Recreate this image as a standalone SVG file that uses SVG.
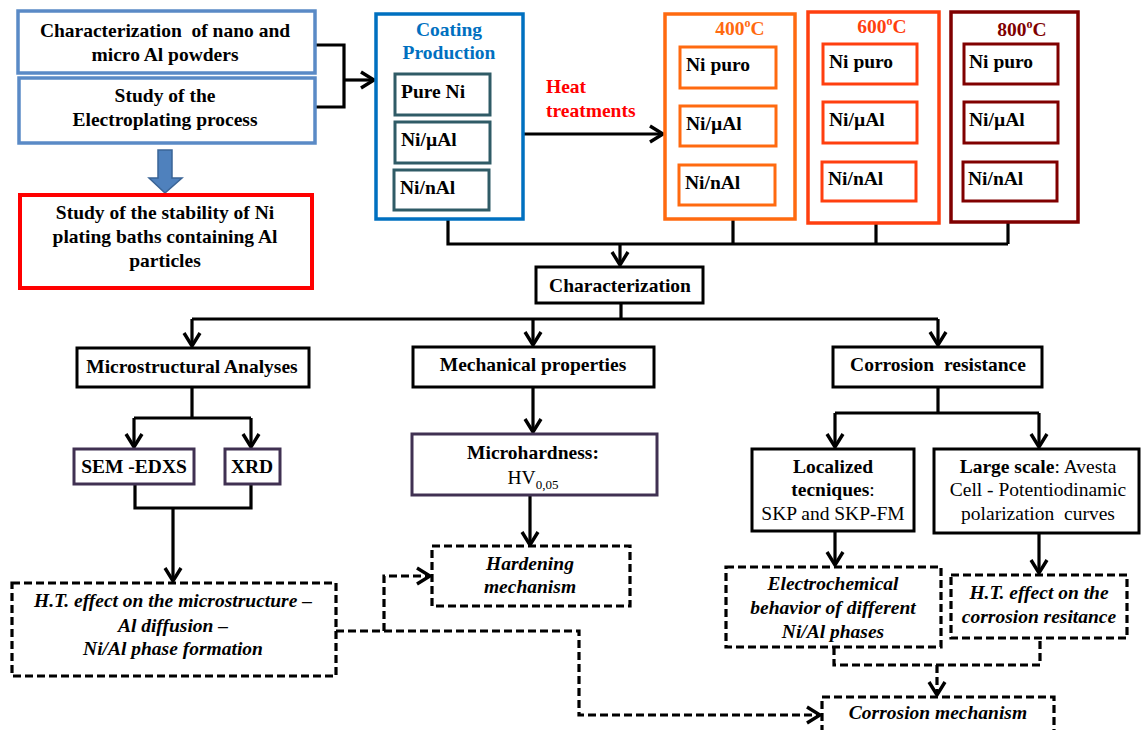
<svg xmlns="http://www.w3.org/2000/svg" width="1141" height="730" viewBox="0 0 1141 730">
<style>
.t{font-family:"Liberation Serif","Times New Roman",serif;font-size:19.5px;font-weight:bold;fill:#000}
.c{text-anchor:middle}
.i{font-style:italic}
.n{font-weight:normal}
.box{fill:#fff;stroke:#000;stroke-width:3}
.dbox{fill:#fff;stroke:#000;stroke-width:3.2;stroke-dasharray:8 4}
.bl{fill:#fff;stroke:#5A8AC6;stroke-width:3.5}
.tl{fill:#fff;stroke:#2F5B66;stroke-width:3}
.pu{fill:#fff;stroke:#403152;stroke-width:3}
.o4{fill:#fff;stroke:#FF6A10;stroke-width:3.5}
.o6{fill:#fff;stroke:#FF3F0F;stroke-width:3.5}
.o8{fill:#fff;stroke:#800000;stroke-width:3.5}
.ln{fill:none;stroke:#000;stroke-width:3.2}
.dl{fill:none;stroke:#000;stroke-width:3.2;stroke-dasharray:8 4}
</style>
<defs>
<marker id="ah" markerUnits="userSpaceOnUse" markerWidth="18" markerHeight="22" viewBox="0 0 18 22" refX="16" refY="11" orient="auto">
<path d="M3,3 L16,11 L3,19" fill="none" stroke="#000" stroke-width="3.4"/>
</marker>
</defs>
<rect width="1141" height="730" fill="#fff"/>

<g id="connectors">
<polyline class="ln" points="315,45 344,45 344,107 315,107"/>
<line class="ln" x1="344" y1="80" x2="374" y2="80" marker-end="url(#ah)"/>
<line class="ln" x1="523" y1="134" x2="663" y2="134" marker-end="url(#ah)"/>
<polyline class="ln" points="448,219 448,244 1008,244"/>
<line class="ln" x1="733" y1="219" x2="733" y2="244"/>
<line class="ln" x1="876" y1="223" x2="876" y2="244"/>
<line class="ln" x1="1008" y1="222" x2="1008" y2="244"/>
<line class="ln" x1="620" y1="244" x2="620" y2="265" marker-end="url(#ah)"/>
<polyline class="ln" points="621,303 621,319"/>
<line class="ln" x1="192" y1="319" x2="938" y2="319"/>
<line class="ln" x1="192" y1="319" x2="192" y2="346" marker-end="url(#ah)"/>
<line class="ln" x1="533" y1="319" x2="533" y2="345" marker-end="url(#ah)"/>
<line class="ln" x1="938" y1="319" x2="938" y2="345" marker-end="url(#ah)"/>
<polyline class="ln" points="192,387 192,418"/>
<line class="ln" x1="134" y1="418" x2="251" y2="418"/>
<line class="ln" x1="134" y1="418" x2="134" y2="447" marker-end="url(#ah)"/>
<line class="ln" x1="251" y1="418" x2="251" y2="447" marker-end="url(#ah)"/>
<polyline class="ln" points="135,484 135,508 251,508 251,484"/>
<line class="ln" x1="173" y1="508" x2="173" y2="581" marker-end="url(#ah)"/>
<line class="ln" x1="533" y1="387" x2="533" y2="432" marker-end="url(#ah)"/>
<line class="ln" x1="530" y1="495" x2="530" y2="545" marker-end="url(#ah)"/>
<polyline class="ln" points="938,387 938,413"/>
<line class="ln" x1="835" y1="413" x2="1039" y2="413"/>
<line class="ln" x1="835" y1="413" x2="835" y2="447" marker-end="url(#ah)"/>
<line class="ln" x1="1039" y1="413" x2="1039" y2="447" marker-end="url(#ah)"/>
<line class="ln" x1="835" y1="531" x2="835" y2="565" marker-end="url(#ah)"/>
<line class="ln" x1="1039" y1="533" x2="1039" y2="573" marker-end="url(#ah)"/>
<polyline class="dl" points="336,631 579,631 579,715 820,715" marker-end="url(#ah)"/>
<polyline class="dl" points="384,631 384,576 430,576" marker-end="url(#ah)"/>
<polyline class="dl" points="834,647 834,665 1040,665 1040,638"/>
<line class="dl" x1="937" y1="665" x2="937" y2="695" marker-end="url(#ah)"/>
<path d="M158,150 H172 V178 H182 L165,193 L149,178 H158 Z" fill="#4F81BD" stroke="#3A6496" stroke-width="1.5"/>
</g>

<g id="n-characterization-powders">
<rect class="bl" x="18" y="11" width="297" height="62"/>
<text class="t c" x="165" y="37" style="white-space:pre">Characterization  of nano and</text>
<text class="t c" x="165" y="61">micro Al powders</text>
</g>
<g id="n-electroplating">
<rect class="bl" x="19" y="78" width="296" height="65"/>
<text class="t c" x="165" y="102">Study of the</text>
<text class="t c" x="165" y="126">Electroplating process</text>
</g>
<g id="n-stability">
<rect x="20" y="195" width="292" height="93" fill="#fff" stroke="#FF0000" stroke-width="4"/>
<text class="t c" x="165" y="219">Study of the stability of Ni</text>
<text class="t c" x="165" y="243">plating baths containing Al</text>
<text class="t c" x="165" y="267">particles</text>
</g>

<g id="n-coating">
<rect x="376" y="14" width="147" height="205" fill="#fff" stroke="#0070C0" stroke-width="3.5"/>
<text class="t c" x="449" y="36" style="fill:#0070C0">Coating</text>
<text class="t c" x="449" y="59" style="fill:#0070C0">Production</text>
<rect class="tl" x="395" y="74" width="95" height="41"/>
<text class="t" x="401" y="98">Pure Ni</text>
<rect class="tl" x="395" y="122" width="95" height="41"/>
<text class="t" x="401" y="146">Ni/µAl</text>
<rect class="tl" x="394" y="170" width="95" height="40"/>
<text class="t" x="400" y="194">Ni/nAl</text>
</g>

<g id="n-heat-label">
<text class="t" x="546" y="93" style="fill:#FF0000">Heat</text>
<text class="t" x="546" y="117" style="fill:#FF0000">treatments</text>
</g>

<g id="n-400">
<rect class="o4" x="665" y="14" width="130" height="205"/>
<text class="t c" x="740" y="35" style="fill:#FF6A10">400<tspan font-size="12" dy="-8">o</tspan><tspan dy="8">C</tspan></text>
<rect fill="#fff" stroke="#FF6A10" stroke-width="3" x="680" y="47" width="96" height="41"/>
<text class="t" x="686" y="71">Ni puro</text>
<rect fill="#fff" stroke="#FF6A10" stroke-width="3" x="680" y="106" width="96" height="40"/>
<text class="t" x="686" y="130">Ni/µAl</text>
<rect fill="#fff" stroke="#FF6A10" stroke-width="3" x="679" y="165" width="96" height="40"/>
<text class="t" x="685" y="189">Ni/nAl</text>
</g>
<g id="n-600">
<rect class="o6" x="808" y="12" width="131" height="211"/>
<text class="t c" x="882" y="33" style="fill:#FF3F0F">600<tspan font-size="12" dy="-8">o</tspan><tspan dy="8">C</tspan></text>
<rect fill="#fff" stroke="#FF3F0F" stroke-width="3" x="823" y="44" width="94" height="40"/>
<text class="t" x="829" y="68">Ni puro</text>
<rect fill="#fff" stroke="#FF3F0F" stroke-width="3" x="823" y="102" width="94" height="41"/>
<text class="t" x="829" y="126">Ni/µAl</text>
<rect fill="#fff" stroke="#FF3F0F" stroke-width="3" x="822" y="162" width="94" height="39"/>
<text class="t" x="828" y="185">Ni/nAl</text>
</g>
<g id="n-800">
<rect class="o8" x="951" y="12" width="127" height="210"/>
<text class="t c" x="1022" y="36" style="fill:#800000">800<tspan font-size="12" dy="-8">o</tspan><tspan dy="8">C</tspan></text>
<rect fill="#fff" stroke="#800000" stroke-width="3" x="964" y="44" width="94" height="40"/>
<text class="t" x="969" y="68">Ni puro</text>
<rect fill="#fff" stroke="#800000" stroke-width="3" x="964" y="102" width="94" height="41"/>
<text class="t" x="969" y="126">Ni/µAl</text>
<rect fill="#fff" stroke="#800000" stroke-width="3" x="963" y="162" width="94" height="39"/>
<text class="t" x="968" y="185">Ni/nAl</text>
</g>

<g id="n-characterization">
<rect class="box" x="536" y="267" width="167" height="36"/>
<text class="t c" x="620" y="292">Characterization</text>
</g>

<g id="n-microstructural">
<rect class="box" x="77" y="348" width="232" height="39"/>
<text class="t c" x="192" y="373">Microstructural Analyses</text>
</g>
<g id="n-mechanical">
<rect class="box" x="413" y="347" width="241" height="40"/>
<text class="t c" x="533" y="371">Mechanical properties</text>
</g>
<g id="n-corrosion">
<rect class="box" x="833" y="347" width="209" height="40"/>
<text class="t c" x="938" y="371" style="white-space:pre">Corrosion  resistance</text>
</g>

<g id="n-sem">
<rect class="pu" x="74" y="449" width="120" height="35"/>
<text class="t c" x="134" y="473">SEM -EDXS</text>
</g>
<g id="n-xrd">
<rect class="pu" x="225" y="449" width="55" height="35"/>
<text class="t c" x="252" y="473">XRD</text>
</g>
<g id="n-microhardness">
<rect class="pu" x="412" y="434" width="245" height="61"/>
<text class="t c" x="533" y="459">Microhardness:</text>
<text class="t n c" x="533" y="484">HV<tspan font-size="13" dy="5">0,05</tspan></text>
</g>

<g id="n-localized">
<rect class="box" x="752" y="449" width="162" height="82"/>
<text class="t c" x="833" y="473">Localized</text>
<text class="t c" x="833" y="496">tecniques<tspan class="n">:</tspan></text>
<text class="t n c" x="833" y="520">SKP and SKP-FM</text>
</g>
<g id="n-large">
<rect class="box" x="934" y="449" width="205" height="84"/>
<text class="t c" x="1038" y="473">Large scale<tspan class="n">: Avesta</tspan></text>
<text class="t n c" x="1038" y="496">Cell - Potentiodinamic</text>
<text class="t n c" x="1038" y="520" style="white-space:pre">polarization  curves</text>
</g>

<g id="n-ht-micro">
<rect class="dbox" x="12" y="583" width="324" height="93"/>
<text class="t i c" x="173" y="607">H.T. effect on the microstructure –</text>
<text class="t i c" x="173" y="632">Al diffusion –</text>
<text class="t i c" x="173" y="655">Ni/Al phase formation</text>
</g>
<g id="n-hardening">
<rect class="dbox" x="432" y="546" width="198" height="60"/>
<text class="t i c" x="530" y="570">Hardening</text>
<text class="t i c" x="530" y="593">mechanism</text>
</g>
<g id="n-electrochemical">
<rect class="dbox" x="726" y="567" width="215" height="80"/>
<text class="t i c" x="833" y="590">Electrochemical</text>
<text class="t i c" x="833" y="614">behavior of different</text>
<text class="t i c" x="833" y="638">Ni/Al phases</text>
</g>
<g id="n-ht-corrosion">
<rect class="dbox" x="951" y="575" width="176" height="63"/>
<text class="t i c" x="1039" y="599">H.T. effect on the</text>
<text class="t i c" x="1039" y="623">corrosion resitance</text>
</g>
<g id="n-corrosion-mechanism">
<rect class="dbox" x="822" y="697" width="232" height="50"/>
<text class="t i c" x="938" y="719">Corrosion mechanism</text>
</g>
</svg>
